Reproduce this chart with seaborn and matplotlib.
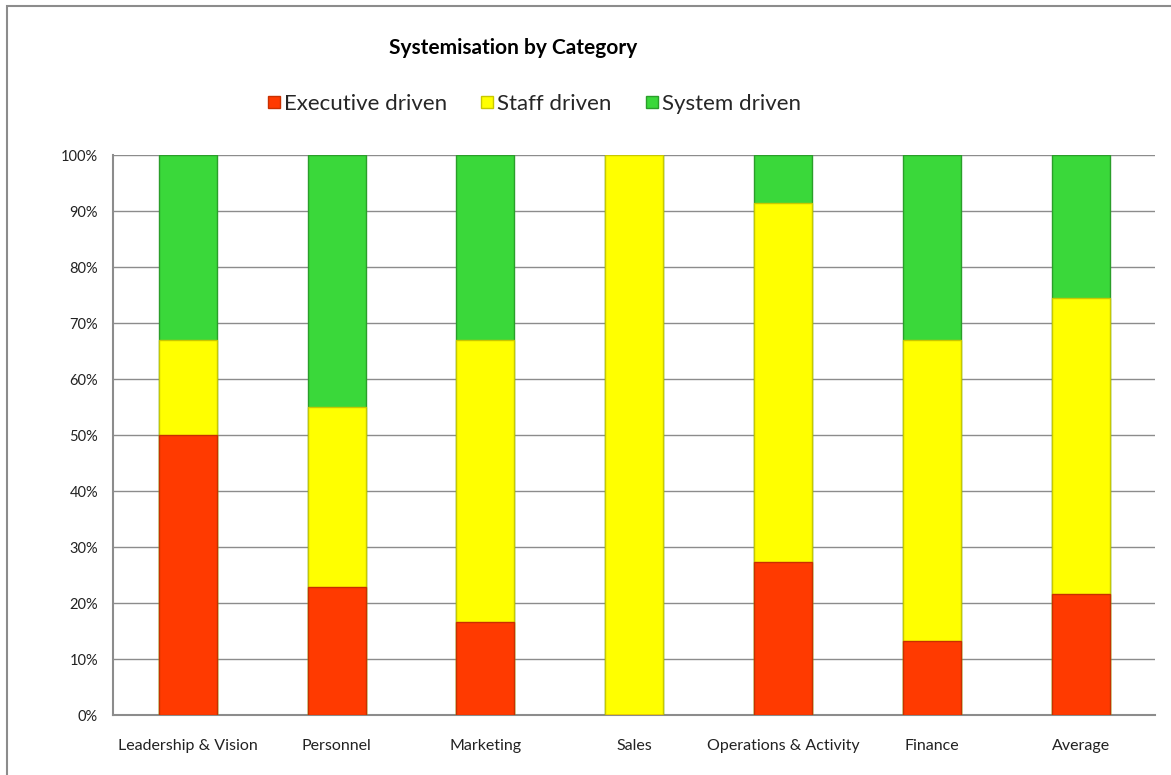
import matplotlib
matplotlib.use("Agg")
import matplotlib.pyplot as plt
import seaborn as sns
import numpy as np
import pandas as pd
from matplotlib.patches import Rectangle
from matplotlib.lines import Line2D

categories = ["Leadership & Vision", "Personnel", "Marketing", "Sales",
              "Operations & Activity", "Finance", "Average"]
executive = [50.0, 23.0, 16.7, 0.0, 27.3, 13.3, 21.7]
staff = [17.0, 32.0, 50.3, 100.0, 64.1, 53.7, 52.8]
system = [33.0, 45.0, 33.0, 0.0, 8.6, 33.0, 25.5]
series_names = ["Executive driven", "Staff driven", "System driven"]
colors = ["#FF3A00", "#FFFF00", "#3AD83A"]
edge_colors = ["#C83000", "#C8C800", "#2A9E2A"]
title = "Systemisation by Category"

sns.set_style("white")
plt.rcParams["font.family"] = ["Lato", "DejaVu Sans"]

df = pd.DataFrame({"cat": categories, "exec": executive, "staff": staff, "system": system})
df["c1"] = df["exec"]
df["c2"] = df["exec"] + df["staff"]
df["c3"] = df["exec"] + df["staff"] + df["system"]

fig = plt.figure(figsize=(11.71, 7.75), dpi=100)
ax = fig.add_axes([113.3 / 1171, 1 - 715.3 / 775, (1155 - 113.3) / 1171, 560 / 775])

# stacked via overlaying cumulative totals
for col, c, ec in [("c3", colors[2], edge_colors[2]), ("c2", colors[1], edge_colors[1]), ("c1", colors[0], edge_colors[0])]:
    sns.barplot(data=df, x="cat", y=col, color=c, width=0.39, ax=ax,
                edgecolor=ec, linewidth=1.0, saturation=1, zorder=3)

ax.set_xlim(-0.5, len(categories) - 0.5)
ax.set_ylim(0, 100)
ax.set_yticks(np.arange(0, 101, 10))
ax.set_yticklabels([f"{v}%" for v in range(0, 101, 10)])
ax.yaxis.grid(True, color="#8C8C8C", linewidth=1.0, zorder=0)
ax.set_axisbelow(True)
ax.set_xlabel("")
ax.set_ylabel("")

ax.set_xticks(range(len(categories)))
ax.set_xticklabels(categories)
ax.set_xticks(np.arange(-0.5, len(categories), 1.0), minor=True)
ax.tick_params(axis="x", which="major", length=0, pad=17, labelsize=11.5, labelcolor="#222222")
ax.tick_params(axis="x", which="minor", length=5, color="#8C8C8C", width=1)
ax.tick_params(axis="y", length=5, color="#8C8C8C", width=1, labelsize=10.5, labelcolor="#222222", pad=6)

for s in ["top", "right"]:
    ax.spines[s].set_visible(False)
for s in ["left", "bottom"]:
    ax.spines[s].set_color("#8C8C8C")
    ax.spines[s].set_linewidth(1.5)

fig.text(513 / 1171, 1 - 48 / 775, title, ha="center", va="center",
         fontsize=15, fontweight="bold", color="#000000")

handles = [Line2D([0], [0], marker="s", linestyle="", markersize=9,
                  markerfacecolor=c, markeredgecolor=ec) for c, ec in zip(colors, edge_colors)]
fig.legend(handles, series_names, loc="center", bbox_to_anchor=(533 / 1171, 1 - 104 / 775),
           ncol=3, frameon=False, fontsize=16, handletextpad=0.05, columnspacing=1.4,
           handlelength=0.8)

fig.patches.append(Rectangle((7 / 1171, -0.1), 1.1, 1 - 6 / 775 + 0.1, transform=fig.transFigure,
                             fill=False, edgecolor="#8C8C8C", linewidth=1.5))

fig.savefig("out.png", dpi=100)
